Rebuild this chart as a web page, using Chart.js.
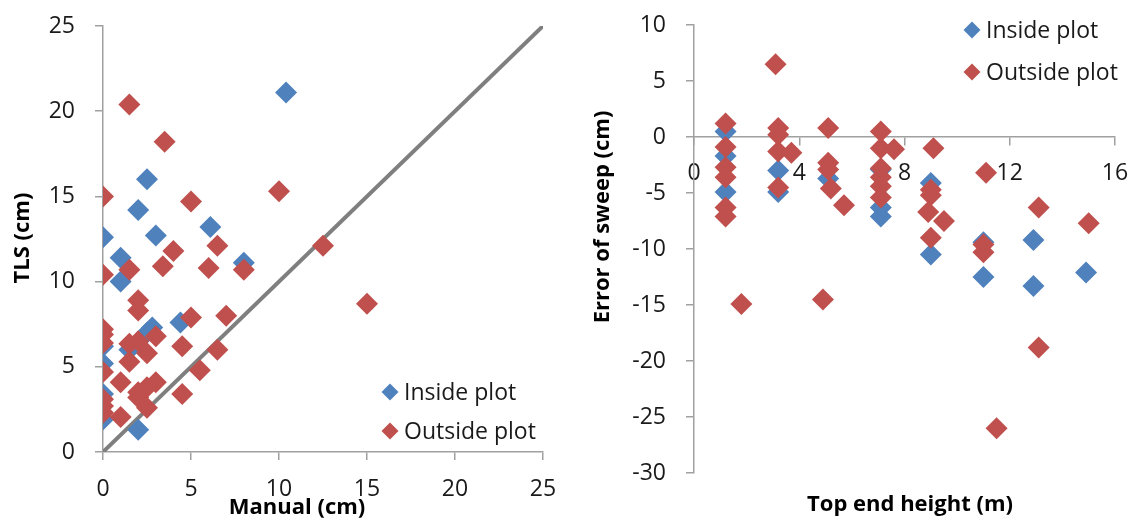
<!DOCTYPE html>
<html>
<head>
<meta charset="utf-8">
<script src="https://cdn.jsdelivr.net/npm/chart.js@4/dist/chart.umd.min.js"></script>
<style>
    body { margin: 0; background: #fff; }
    .panel { position: absolute; top: 0; }
    #left { left: 0; }
    #right { left: 565px; }
</style>
</head>
<body>
<div class="panel" id="left"><canvas id="tlsChart" width="565" height="525"></canvas></div>
<div class="panel" id="right"><canvas id="sweepChart" width="566" height="525"></canvas></div>
<script>
// Left panel: TLS vs manual sweep
const insideManual  = [10.4, 2.5, 2.0, 0, 3.0, 6.1, 1.0, 1.0, 8.0, 4.4, 2.8, 2.5, 0, 0, 0, 0, 2.0, 1.5];
const insideTLS     = [21.1, 16.0, 14.2, 12.6, 12.7, 13.2, 11.4, 10.0, 11.1, 7.6, 7.3, 7.0, 6.2, 5.2, 3.4, 1.9, 1.3, 6.0];
const outsideManual = [1.5, 3.5, 0, 5.0, 10.0, 6.5, 12.5, 4.0, 3.4, 1.5, 0, 6.0, 8.0, 15.0, 2.0, 2.0, 5.0, 7.0, 3.0,
                       0, 0, 0, 1.5, 2.0, 2.5, 4.5, 6.5, 1.5, 5.5, 0, 1.0, 3.0, 2.5, 2.0, 2.5, 4.5, 0, 0, 0, 1.0, 2.0];
const outsideTLS    = [20.4, 18.2, 15.0, 14.7, 15.3, 12.1, 12.1, 11.8, 10.9, 10.7, 10.4, 10.8, 10.7, 8.7, 8.9, 8.3, 7.9, 8.0, 6.8,
                       7.2, 6.9, 6.4, 6.35, 6.5, 5.8, 6.2, 6.0, 5.3, 4.8, 4.7, 4.1, 4.1, 3.8, 3.2, 2.6, 3.4, 3.1, 2.7, 2.3, 2.05, 3.5];
const oneToOne = [0, 25];

// Right panel: error of sweep vs top end height
const insideHeight  = [1.2, 1.2, 1.2, 3.2, 3.2, 5.1, 7.1, 7.1, 7.1, 9.0, 9.0, 11.0, 11.0, 12.9, 12.9, 14.9];
const insideError   = [0.5, -1.7, -4.9, -3.0, -4.9, -3.7, -2.9, -6.3, -7.1, -4.1, -10.5, -9.4, -12.5, -9.2, -13.3, -12.1];
const outsideHeight = [1.2, 1.2, 1.2, 1.2, 1.2, 1.2, 1.8, 3.1, 3.2, 3.2, 3.2, 3.7, 3.2, 5.1, 5.1, 5.1, 5.2, 5.7, 4.9,
                       7.1, 7.1, 7.6, 7.1, 7.1, 7.1, 7.1, 9.1, 9.0, 9.0, 8.9, 9.5, 9.0, 11.1, 11.0, 11.0, 11.5, 13.1, 13.1, 15.0];
const outsideError  = [1.2, -0.9, -2.7, -3.6, -6.3, -7.1, -14.9, 6.5, 0.8, 0.2, -1.3, -1.4, -4.5, 0.8, -2.3, -2.9, -4.6, -6.1, -14.5,
                       0.5, -1.0, -1.1, -2.8, -3.6, -4.4, -5.4, -1.0, -4.7, -5.2, -6.7, -7.5, -9.0, -3.2, -9.6, -10.3, -26.0, -6.3, -18.8, -7.7];

const seriesNames = ['Inside plot', 'Outside plot'];
const blue = '#4f81bd';
const red = '#c0504d';
const axisColor = '#a0a0a0';
const textColor = '#1a1a1a';
const fontFamily = "'Open Sans', sans-serif";

function toPoints(xs, ys) {
    return xs.map(function(x, i) { return {x: x, y: ys[i]}; });
}

function markerSet(label, xs, ys, color, order) {
    return {
        label: label,
        data: toPoints(xs, ys),
        backgroundColor: color,
        borderColor: color,
        borderWidth: 0,
        pointStyle: 'rectRot',
        pointRadius: 11,
        order: order,
        inLegend: true
    };
}

// Legend drawn inside the plot, Excel style
const diamondLegend = {
    id: 'diamondLegend',
    afterDraw: function(chart, args, opts) {
        const ctx = chart.ctx;
        const items = chart.data.datasets.filter(d => d.inLegend);
        ctx.save();
        ctx.font = '23px ' + fontFamily;
        ctx.textBaseline = 'middle';
        items.forEach(function(ds, i) {
            const cx = opts.x;
            const cy = opts.y + i * opts.gap;
            const r = 8.5;
            ctx.fillStyle = ds.backgroundColor;
            ctx.beginPath();
            ctx.moveTo(cx, cy - r);
            ctx.lineTo(cx + r, cy);
            ctx.lineTo(cx, cy + r);
            ctx.lineTo(cx - r, cy);
            ctx.closePath();
            ctx.fill();
            ctx.fillStyle = textColor;
            ctx.fillText(ds.label, cx + 14, cy + 1);
        });
        ctx.restore();
    }
};

// Axis titles placed where Excel put them (not always centred on the axis)
const axisTitles = {
    id: 'axisTitles',
    afterDraw: function(chart, args, opts) {
        const ctx = chart.ctx;
        ctx.save();
        ctx.font = 'bold 22px ' + fontFamily;
        ctx.fillStyle = '#000';
        ctx.textAlign = 'center';
        ctx.textBaseline = 'middle';
        opts.items.forEach(function(t) {
            ctx.save();
            ctx.translate(t.x, t.y);
            if (t.vertical) ctx.rotate(-Math.PI / 2);
            ctx.fillText(t.text, 0, 0);
            ctx.restore();
        });
        ctx.restore();
    }
};

function axisBase(min, max, step) {
    return {
        type: 'linear',
        min: min,
        max: max,
        ticks: {stepSize: step, color: textColor, font: {family: fontFamily, size: 23}},
        grid: {drawOnChartArea: false, tickLength: 8, color: axisColor, lineWidth: 1.5},
        border: {color: axisColor, width: 1.5}
    };
}

// let the layout padding alone decide where the plot area sits
function noLabelPadding(scale) {
    scale.paddingTop = 0;
    scale.paddingBottom = 0;
    scale.paddingLeft = 0;
    scale.paddingRight = 0;
}

// Left chart
const tlsX = axisBase(0, 25, 5);
tlsX.ticks.padding = 16;
tlsX.afterFit = function(scale) { scale.height = 73; noLabelPadding(scale); };

const tlsY = axisBase(0, 25, 5);
tlsY.ticks.padding = 20;
tlsY.afterFit = function(scale) { scale.width = 103; noLabelPadding(scale); };

new Chart(document.getElementById('tlsChart'), {
    type: 'scatter',
    data: {
        datasets: [
            markerSet(seriesNames[0], insideManual, insideTLS, blue, 1),
            markerSet(seriesNames[1], outsideManual, outsideTLS, red, 0),
            {
                label: '1:1',
                data: toPoints(oneToOne, oneToOne),
                showLine: true,
                borderColor: '#7f7f7f',
                borderWidth: 4,
                pointRadius: 0,
                order: 2
            }
        ]
    },
    options: {
        responsive: false,
        animation: false,
        layout: {padding: {top: 26, right: 22, bottom: 0, left: 0}},
        plugins: {
            legend: {display: false},
            tooltip: {enabled: false},
            diamondLegend: {x: 390, y: 392, gap: 39},
            axisTitles: {items: [
                {text: 'Manual (cm)', x: 297, y: 508},
                {text: 'TLS (cm)', x: 23, y: 238, vertical: true}
            ]}
        },
        scales: {x: tlsX, y: tlsY}
    },
    plugins: [diamondLegend, axisTitles]
});

// Right chart
const sweepX = axisBase(0, 16, 4);
sweepX.position = {y: 0};
sweepX.ticks.padding = 15;
sweepX.afterFit = noLabelPadding;

const sweepY = axisBase(-30, 10, 5);
sweepY.ticks.padding = 20;
sweepY.afterFit = function(scale) { scale.width = 129; noLabelPadding(scale); };

new Chart(document.getElementById('sweepChart'), {
    type: 'scatter',
    data: {
        datasets: [
            markerSet(seriesNames[0], insideHeight, insideError, blue, 1),
            markerSet(seriesNames[1], outsideHeight, outsideError, red, 0)
        ]
    },
    options: {
        responsive: false,
        animation: false,
        layout: {padding: {top: 25, right: 16, bottom: 52, left: 0}},
        plugins: {
            legend: {display: false},
            tooltip: {enabled: false},
            diamondLegend: {x: 407, y: 30, gap: 42},
            axisTitles: {items: [
                {text: 'Top end height (m)', x: 345, y: 505},
                {text: 'Error of sweep (cm)', x: 38, y: 217, vertical: true}
            ]}
        },
        scales: {x: sweepX, y: sweepY}
    },
    plugins: [diamondLegend, axisTitles]
});
</script>
</body>
</html>
